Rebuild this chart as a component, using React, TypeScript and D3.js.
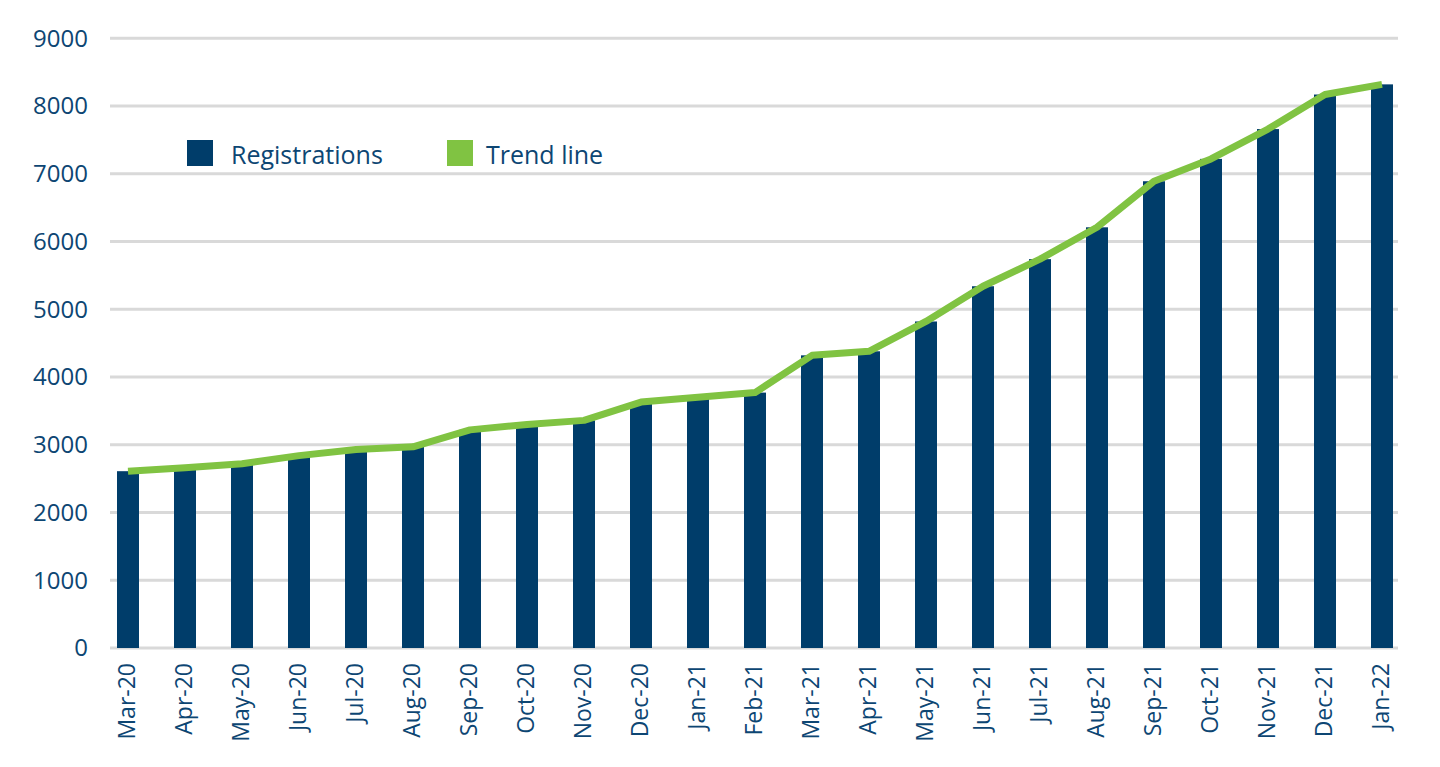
import React, { useEffect, useRef } from 'react';
import * as d3 from 'd3';

const months: string[] = [
  'Mar-20', 'Apr-20', 'May-20', 'Jun-20', 'Jul-20', 'Aug-20', 'Sep-20', 'Oct-20',
  'Nov-20', 'Dec-20', 'Jan-21', 'Feb-21', 'Mar-21', 'Apr-21', 'May-21', 'Jun-21',
  'Jul-21', 'Aug-21', 'Sep-21', 'Oct-21', 'Nov-21', 'Dec-21', 'Jan-22',
];

const registrations: number[] = [
  2610, 2660, 2720, 2840, 2930, 2970, 3220, 3300, 3360, 3630, 3700, 3770,
  4320, 4380, 4820, 5340, 5740, 6210, 6890, 7220, 7660, 8170, 8320,
];

// trend line follows the monthly totals
const trend: number[] = [
  2610, 2660, 2720, 2840, 2930, 2970, 3220, 3300, 3360, 3630, 3700, 3770,
  4320, 4380, 4820, 5340, 5740, 6210, 6890, 7220, 7660, 8170, 8320,
];

const yTicks: number[] = [0, 1000, 2000, 3000, 4000, 5000, 6000, 7000, 8000, 9000];

const BAR = '#003d6a';
const GREEN = '#80c342';
const TEXT = '#0d4673';
const GRID = '#d9d9d9';
const FONT = '"Open Sans", sans-serif';

const App: React.FC = () => {
  const svgRef = useRef<SVGSVGElement | null>(null);

  useEffect(() => {
    const svg = d3.select(svgRef.current);
    svg.selectAll('*').remove();

    const gridLeft = 110;
    const gridRight = 1398;

    const x = d3.scaleBand<string>().domain(months).range([99.5, 1410.5]).padding(0);
    const y = d3.scaleLinear().domain([0, 9000]).range([648, 38.3]);
    const cx = (m: string) => (x(m) as number) + x.bandwidth() / 2;
    const barW = 22;

    // gridlines
    svg
      .append('g')
      .selectAll('line')
      .data(yTicks)
      .join('line')
      .attr('x1', gridLeft)
      .attr('x2', gridRight)
      .attr('y1', d => y(d))
      .attr('y2', d => y(d))
      .attr('stroke', GRID)
      .attr('stroke-width', 3);

    // y labels
    svg
      .append('g')
      .selectAll('text')
      .data(yTicks)
      .join('text')
      .attr('x', 88)
      .attr('y', d => y(d))
      .attr('dy', '0.35em')
      .attr('text-anchor', 'end')
      .attr('fill', TEXT)
      .style('font-family', FONT)
      .style('font-size', '24px')
      .text(d => String(d));

    // bars
    svg
      .append('g')
      .selectAll('rect')
      .data(months)
      .join('rect')
      .attr('x', d => cx(d) - barW / 2)
      .attr('width', barW)
      .attr('y', (_, i) => y(registrations[i]))
      .attr('height', (_, i) => y(0) - y(registrations[i]))
      .attr('fill', BAR);

    // trend line
    const line = d3
      .line<number>()
      .x((_, i) => cx(months[i]))
      .y(d => y(d));

    svg
      .append('path')
      .datum(trend)
      .attr('fill', 'none')
      .attr('stroke', GREEN)
      .attr('stroke-width', 7)
      .attr('stroke-linejoin', 'round')
      .attr('d', line);

    // x labels
    svg
      .append('g')
      .selectAll('text')
      .data(months)
      .join('text')
      .attr('transform', d => `translate(${cx(d)},663) rotate(-90)`)
      .attr('dy', '0.29em')
      .attr('text-anchor', 'end')
      .attr('fill', TEXT)
      .style('font-family', FONT)
      .style('font-size', '23px')
      .text(d => d);

    // legend
    const legend = [
      { label: 'Registrations', color: BAR, x: 187, tx: 231 },
      { label: 'Trend line', color: GREEN, x: 447, tx: 486 },
    ];
    const lg = svg.append('g');
    legend.forEach(l => {
      lg.append('rect')
        .attr('x', l.x)
        .attr('y', 140)
        .attr('width', 26)
        .attr('height', 26)
        .attr('fill', l.color);
      lg.append('text')
        .attr('x', l.tx)
        .attr('y', 164)
        .attr('fill', TEXT)
        .style('font-family', FONT)
        .style('font-size', '25px')
        .text(l.label);
    });
  }, []);

  return (
    <svg
      ref={svgRef}
      width={1440}
      height={767}
      style={{ position: 'absolute', left: 0, top: 0, background: '#fff' }}
    />
  );
};

export default App;
